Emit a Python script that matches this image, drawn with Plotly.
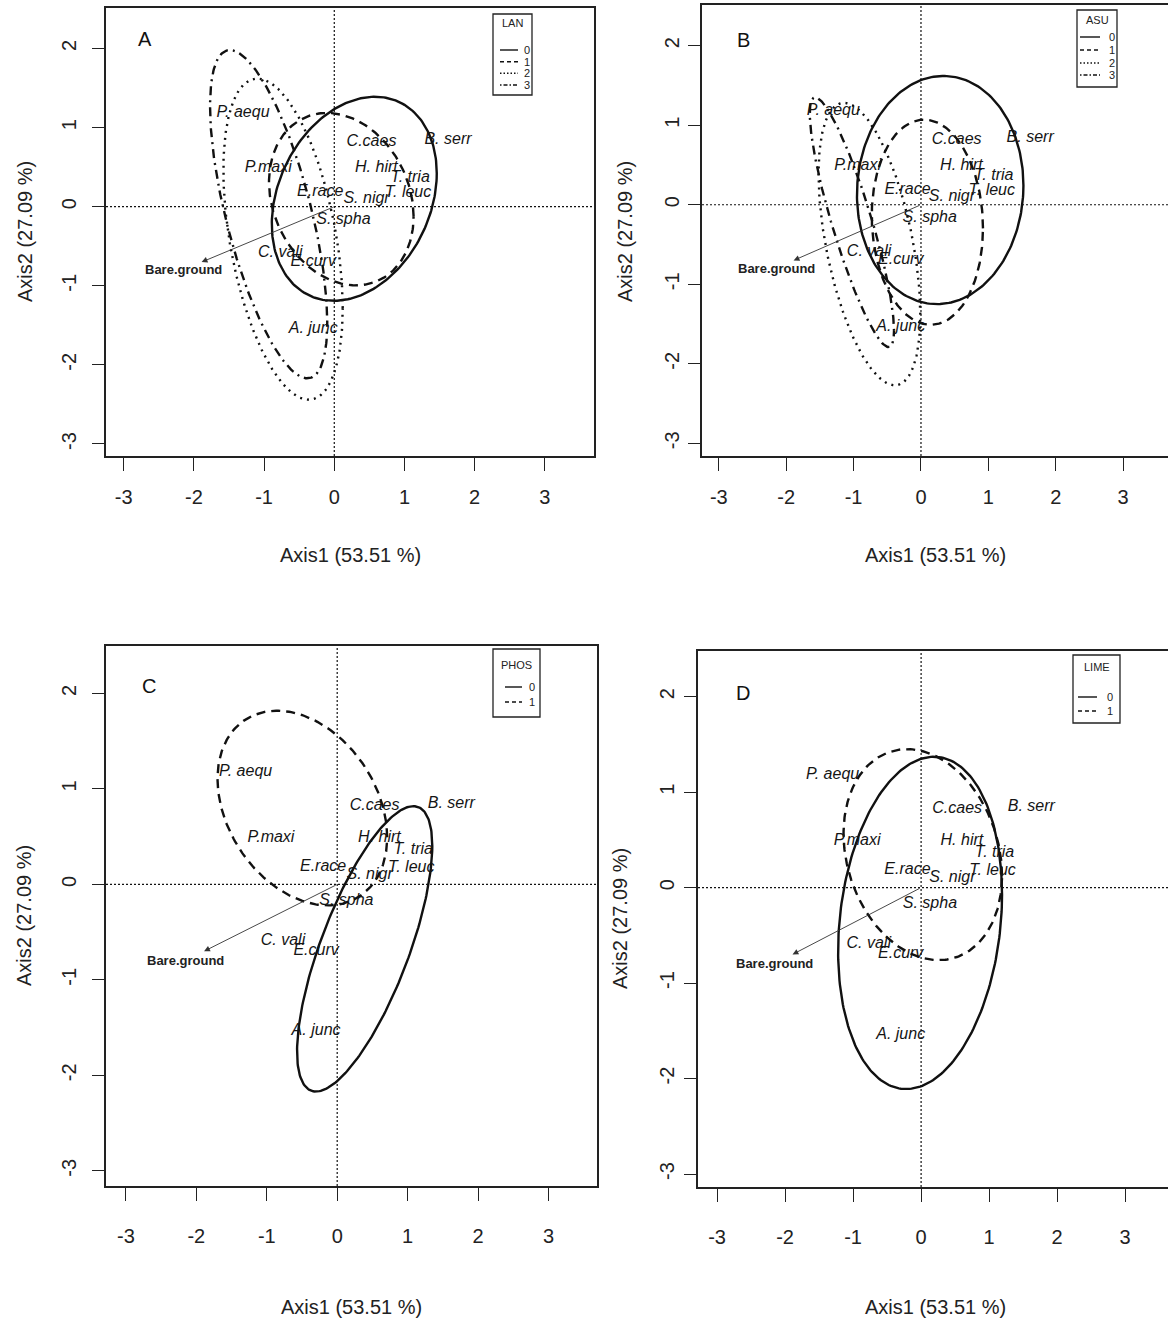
import numpy as np
import plotly.graph_objects as go

W, H = 1168, 1324

# ---------------- data ----------------
SPECIES = ["P. aequ", "C.caes", "B. serr", "P.maxi", "H. hirt", "T. tria", "E.race",
           "S. nigr", "T. leuc", "S. spha", "C. vali", "E.curv", "A. junc"]
SP_X = [-1.30, 0.53, 1.62, -0.94, 0.60, 1.08, -0.20, 0.46, 1.05, 0.13, -0.77, -0.30, -0.30]
SP_Y = [1.18, 0.82, 0.84, 0.49, 0.49, 0.36, 0.18, 0.10, 0.17, -0.17, -0.59, -0.70, -1.54]

ENV_NAME = "Bare.ground"
ENV_TIP_X, ENV_TIP_Y = -1.89, -0.70
ENV_LAB_X, ENV_LAB_Y = -2.15, -0.80

TICKS = [-3, -2, -1, 0, 1, 2, 3]
TICK_TEXT = ["-3", "-2", "-1", "0", "1", "2", "3"]
X_TITLE = "Axis1 (53.51 %)"
Y_TITLE = "Axis2 (27.09 %)"

PANELS = ["A", "B", "C", "D"]
FACTORS = ["LAN", "ASU", "PHOS", "LIME"]

# ellipse parameters per level: centre x, centre y, half-range x, half-range y, correlation
LAN_LEVELS = ["0", "1", "2", "3"]
LAN_CX = [0.285, 0.10, -0.73, -0.935]
LAN_CY = [0.10, 0.095, -0.41, -0.095]
LAN_SX = [1.175, 1.03, 0.85, 0.835]
LAN_SY = [1.29, 1.09, 2.03, 2.075]
LAN_R = [0.25, -0.2, -0.43, -0.66]

ASU_LEVELS = ["0", "1", "2", "3"]
ASU_CX = [0.285, 0.095, -0.765, -1.025]
ASU_CY = [0.185, -0.22, -0.495, -0.22]
ASU_SX = [1.235, 0.825, 0.755, 0.625]
ASU_SY = [1.435, 1.29, 1.775, 1.57]
ASU_R = [0.04, -0.06, -0.5, -0.87]

PHOS_LEVELS = ["0", "1"]
PHOS_CX = [0.39, -0.495]
PHOS_CY = [-0.675, 0.80]
PHOS_SX = [0.96, 1.205]
PHOS_SY = [1.495, 1.02]
PHOS_R = [0.72, -0.30]

LIME_LEVELS = ["0", "1"]
LIME_CX = [-0.015, 0.025]
LIME_CY = [-0.37, 0.345]
LIME_SX = [1.205, 1.165]
LIME_SY = [1.74, 1.105]
LIME_R = [0.17, -0.20]

ELLIPSES = {
    "LAN": (LAN_LEVELS, LAN_CX, LAN_CY, LAN_SX, LAN_SY, LAN_R),
    "ASU": (ASU_LEVELS, ASU_CX, ASU_CY, ASU_SX, ASU_SY, ASU_R),
    "PHOS": (PHOS_LEVELS, PHOS_CX, PHOS_CY, PHOS_SX, PHOS_SY, PHOS_R),
    "LIME": (LIME_LEVELS, LIME_CX, LIME_CY, LIME_SX, LIME_SY, LIME_R),
}

# ---------------- layout (pixels) ----------------
BOX = {"A": (106, 594, 8, 456), "B": (702, 1168, 5, 456),
       "C": (106, 597, 646, 1186), "D": (698, 1168, 651, 1187)}
XR = {"A": [-3.252, 3.70], "B": [-3.249, 3.665], "C": [-3.283, 3.689], "D": [-3.28, 3.63]}
YR = {"A": [-3.152, 2.512], "B": [-3.16, 2.512], "C": [-3.16, 2.498], "D": [-3.136, 2.478]}
MIRROR_Y = {"A": True, "B": False, "C": True, "D": False}
XSTAND = {"A": 9, "B": 9, "C": 18, "D": 18}
YSTAND = {"A": 8, "B": 1, "C": 8, "D": 2}
LETTER_POS = {"A": (145, 39), "B": (743, 40), "C": (149, 686), "D": (743, 693)}
XTITLE_POS = {"A": (350, 555), "B": (935, 555), "C": (351, 1307), "D": (935, 1307)}
YTITLE_POS = {"A": (25, 232), "B": (625, 232), "C": (24, 916), "D": (620, 919)}

DASHES = ["solid", "9px,6px", "2px,5px", "2px,5px,9px,5px"]
LEG_DASHES = ["solid", "4px,3px", "1.5px,2px", "1.5px,2px,4px,2px"]
FONT = "Liberation Sans, Arial, sans-serif"
INK = "#1a1a1a"


def fx(px):
    return px / W


def fy(py):
    return 1 - py / H


fig = go.Figure()
layout = dict(width=W, height=H, margin=dict(l=0, r=0, t=0, b=0),
              paper_bgcolor="white", plot_bgcolor="white", showlegend=False)
shapes, annotations = [], []

t = np.linspace(0, 2 * np.pi, 241)

for i, p in enumerate(PANELS):
    sfx = "" if i == 0 else str(i + 1)
    xa, ya = "x" + sfx, "y" + sfx
    l, r, tp, b = BOX[p]
    layout["xaxis" + sfx] = dict(
        domain=[fx(l), fx(r)], range=XR[p], anchor=ya, tickvals=TICKS, ticktext=TICK_TEXT,
        ticks="outside", ticklen=13, tickwidth=1.3, tickcolor="#222",
        showline=True, linecolor="#222", linewidth=1.6, mirror=True,
        showgrid=False, zeroline=False, ticklabelstandoff=XSTAND[p],
        tickfont=dict(family=FONT, size=20, color="#222"))
    layout["yaxis" + sfx] = dict(
        domain=[fy(b), fy(tp)], range=YR[p], anchor=xa, tickvals=TICKS, ticktext=TICK_TEXT,
        ticks="outside", ticklen=12, tickwidth=1.3, tickcolor="#222",
        showline=True, linecolor="#222", linewidth=1.6, mirror=MIRROR_Y[p],
        showgrid=False, zeroline=False, tickangle=-90, ticklabelstandoff=YSTAND[p],
        tickfont=dict(family=FONT, size=20, color="#222"))

    # dotted zero lines
    shapes.append(dict(type="line", xref=xa + " domain", yref=ya, x0=0, x1=1, y0=0, y1=0,
                       line=dict(color="#111", width=1.2, dash="2px,2px")))
    shapes.append(dict(type="line", xref=xa, yref=ya + " domain", x0=0, x1=0, y0=0, y1=1,
                       line=dict(color="#111", width=1.2, dash="2px,2px")))

    # ellipses
    fac = FACTORS[i]
    levels, cxs, cys, sxs, sys_, rs = ELLIPSES[fac]
    for k in range(len(levels)):
        ex = cxs[k] + sxs[k] * np.cos(t)
        ey = cys[k] + sys_[k] * (rs[k] * np.cos(t) + np.sqrt(1 - rs[k] ** 2) * np.sin(t))
        fig.add_trace(go.Scatter(x=ex, y=ey, xaxis=xa, yaxis=ya, mode="lines",
                                 line=dict(color="#111", width=2.4, dash=DASHES[k]),
                                 name=f"{fac} {levels[k]}", hoverinfo="skip"))

    # environmental arrow
    annotations.append(dict(x=ENV_TIP_X, y=ENV_TIP_Y, ax=0, ay=0, xref=xa, yref=ya,
                            axref=xa, ayref=ya, showarrow=True, arrowhead=2,
                            arrowsize=1.3, arrowwidth=0.9, arrowcolor="#333", text=""))
    annotations.append(dict(x=ENV_LAB_X, y=ENV_LAB_Y, xref=xa, yref=ya, showarrow=False,
                            xanchor="center", yanchor="middle",
                            text=ENV_NAME, font=dict(family=FONT, size=13,
                                                     color="#222", weight="bold")))

    # species labels
    fig.add_trace(go.Scatter(x=SP_X, y=SP_Y, xaxis=xa, yaxis=ya, mode="text", text=SPECIES,
                             textposition="middle center",
                             textfont=dict(family=FONT, size=16, color="#151515", style="italic"),
                             hoverinfo="skip"))

    # panel letter
    lx, ly = LETTER_POS[p]
    annotations.append(dict(x=fx(lx), y=fy(ly), xref="paper", yref="paper",
                            xanchor="center", yanchor="middle",
                            text=p, showarrow=False,
                            font=dict(family=FONT, size=20, color="#111")))

    # axis titles
    tx, ty = XTITLE_POS[p]
    annotations.append(dict(x=fx(tx), y=fy(ty), xref="paper", yref="paper",
                            xanchor="center", yanchor="middle",
                            text=X_TITLE, showarrow=False,
                            font=dict(family=FONT, size=20, color="#222")))
    tx, ty = YTITLE_POS[p]
    annotations.append(dict(x=fx(tx), y=fy(ty), xref="paper", yref="paper",
                            xanchor="center", yanchor="middle",
                            text=Y_TITLE, textangle=-90, showarrow=False,
                            font=dict(family=FONT, size=20, color="#222")))

# ---------------- legends ----------------
LEG_BOX = {"A": (493, 532, 14, 95), "B": (1077, 1117, 10, 87),
           "C": (493, 540, 649, 717), "D": (1073, 1120, 655, 723)}
LEG_TITLE_Y = {"A": 23, "B": 20, "C": 665, "D": 667}
LEG_LINE_Y = {"A": [50, 61.7, 73.3, 85], "B": [37, 50, 63, 75],
              "C": [687, 702], "D": [697, 711]}
LEG_LINE_X = {"A": (500, 518), "B": (1080, 1100), "C": (505, 522), "D": (1078, 1097)}
LEG_NUM_X = {"A": 527, "B": 1112, "C": 532, "D": 1110}

for i, p in enumerate(PANELS):
    l, r, tp, b = LEG_BOX[p]
    fac = FACTORS[i]
    levels = ELLIPSES[fac][0]
    shapes.append(dict(type="rect", xref="paper", yref="paper", x0=fx(l), x1=fx(r),
                       y0=fy(b), y1=fy(tp), line=dict(color="#222", width=1.3)))
    annotations.append(dict(x=fx((l + r) / 2), y=fy(LEG_TITLE_Y[p]), xref="paper", yref="paper",
                            xanchor="center", yanchor="middle",
                            text=fac, showarrow=False,
                            font=dict(family=FONT, size=11, color="#222")))
    x0, x1 = LEG_LINE_X[p]
    for k, lev in enumerate(levels):
        yy = LEG_LINE_Y[p][k]
        shapes.append(dict(type="line", xref="paper", yref="paper",
                           x0=fx(x0), x1=fx(x1), y0=fy(yy), y1=fy(yy),
                           line=dict(color="#111", width=1.4, dash=LEG_DASHES[k])))
        annotations.append(dict(x=fx(LEG_NUM_X[p]), y=fy(yy), xref="paper", yref="paper",
                                xanchor="center", yanchor="middle",
                                text=lev, showarrow=False,
                                font=dict(family=FONT, size=11, color="#222")))

layout["shapes"] = shapes
layout["annotations"] = annotations
fig.update_layout(**layout)
fig.write_html("out.html")
